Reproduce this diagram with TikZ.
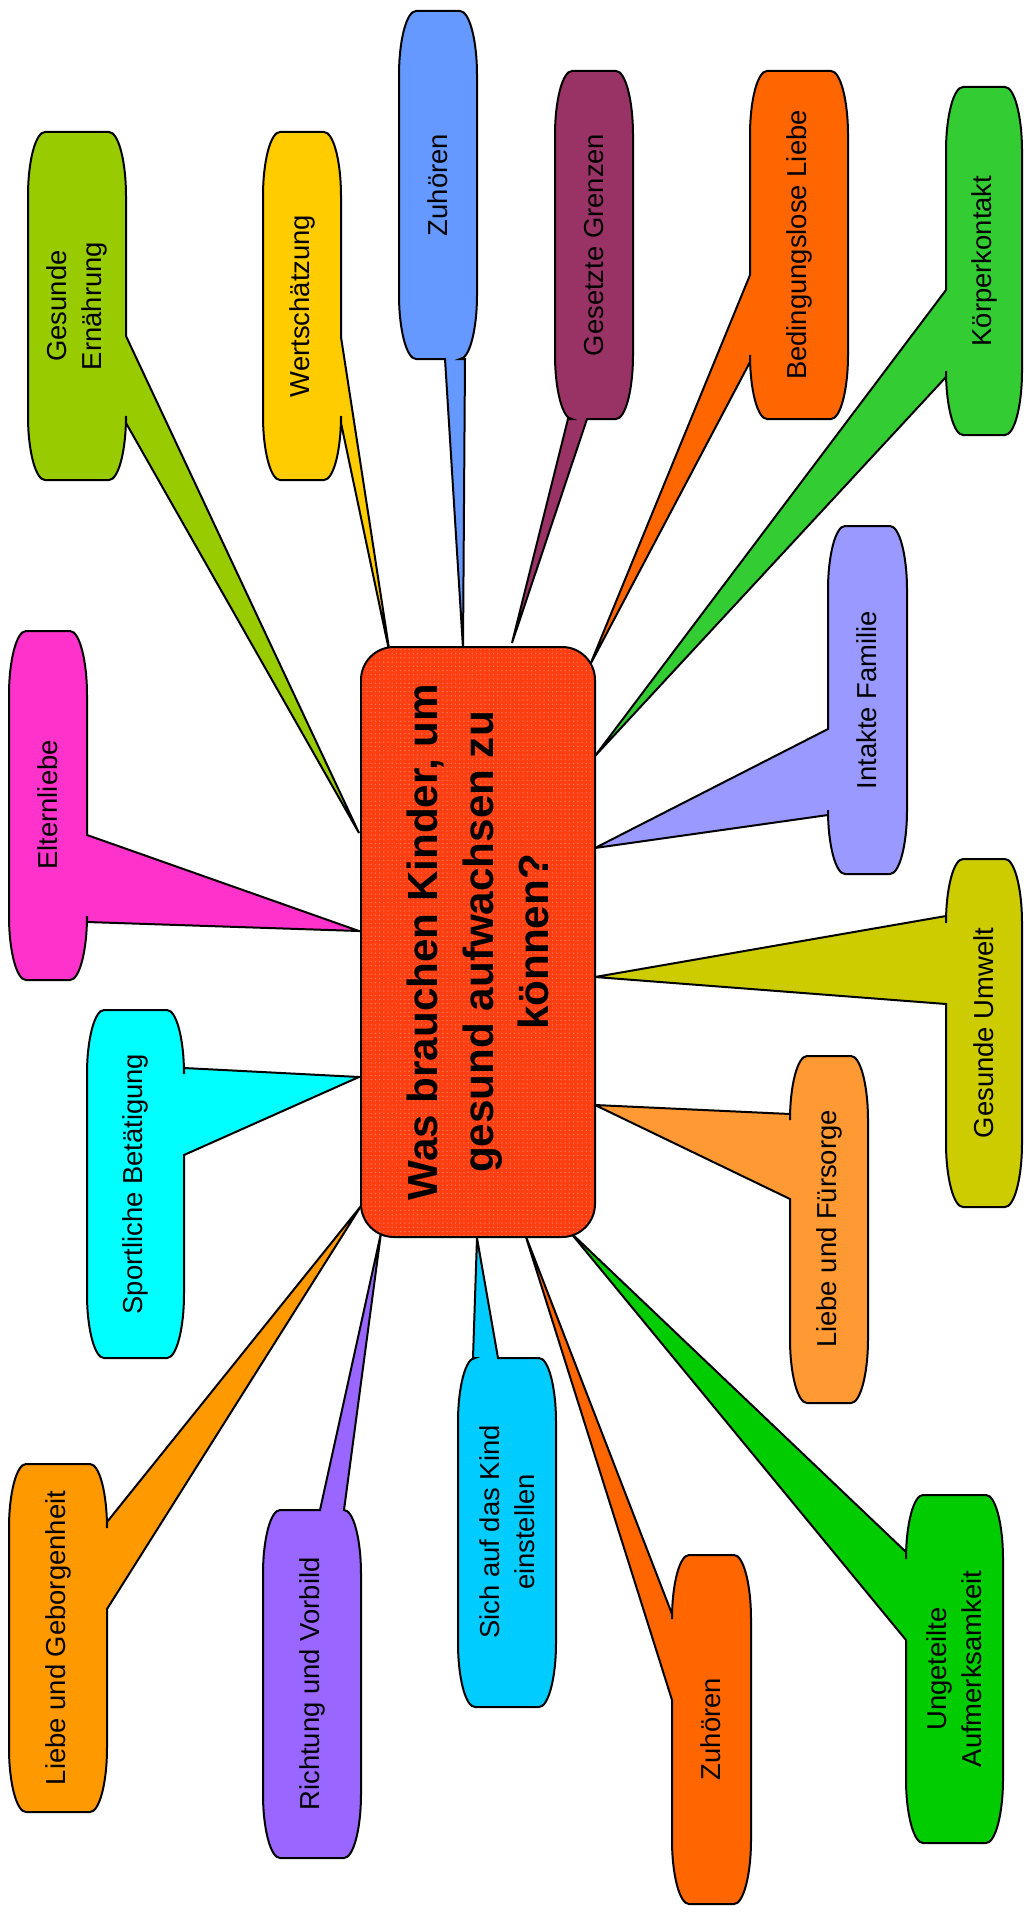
\documentclass[tikz,border=0pt]{standalone}
\usepackage{fontspec}
\setmainfont{Liberation Sans}
\usetikzlibrary{patterns}
\definecolor{fragerot}{RGB}{255,62,18}
\definecolor{fragepunkt}{RGB}{255,130,95}
\definecolor{blasegruengelb}{RGB}{153,204,0}
\definecolor{blasegelb}{RGB}{255,204,0}
\definecolor{blaseblau}{RGB}{102,153,255}
\definecolor{blaseweinrot}{RGB}{153,51,102}
\definecolor{blaseorange}{RGB}{255,102,0}
\definecolor{blasegruen}{RGB}{51,204,51}
\definecolor{blaseflieder}{RGB}{153,153,255}
\definecolor{blaseoliv}{RGB}{204,204,0}
\definecolor{blasehellorange}{RGB}{255,153,51}
\definecolor{blasesattgruen}{RGB}{0,204,0}
\definecolor{blasehimmel}{RGB}{0,204,255}
\definecolor{blaseviolett}{RGB}{153,102,255}
\definecolor{blasegoldorange}{RGB}{255,153,0}
\definecolor{blasetuerkis}{RGB}{0,255,255}
\definecolor{blasepink}{RGB}{255,51,204}
\tikzset{
  blase/.style={
    draw=black,
    line width=0.5mm,
    line join=miter
  },
  etikett/.style={
    rotate=90,
    align=center,
    inner sep=0pt,
    font=\fontsize{19.5}{25}\selectfont
  },
  frage/.style={
    rotate=90,
    draw=black,
    line width=0.5mm,
    rounded corners=8.25mm,
    minimum width=147.5mm,
    minimum height=58.5mm,
    align=center,
    preaction={fill=fragerot},
    pattern=dots,
    pattern color=fragepunkt,
    font=\bfseries\fontsize{30}{39.7}\selectfont
  }
}
\newcommand{\rundx}{17}
\newcommand{\rundy}{64}
% #1 colour, #2-#5 box, #6 side T/R/B/L, #7 #8 tail base, #9 tip
\newcommand{\blase}[9]{%
  \def\kanteT{}\def\kanteR{}\def\kanteB{}\def\kanteL{}%
  \if#6T\def\kanteT{-- (#7,#3) -- (#9) -- (#8,#3)}\fi
  \if#6R\def\kanteR{-- (#4,#7) -- (#9) -- (#4,#8)}\fi
  \if#6B\def\kanteB{-- (#8,#5) -- (#9) -- (#7,#5)}\fi
  \if#6L\def\kanteL{-- (#2,#8) -- (#9) -- (#2,#7)}\fi
  \filldraw[blase, fill=#1]
    (#2+\rundx,#3) \kanteT -- (#4-\rundx,#3)
    .. controls (#4-\rundx*0.45,#3) and (#4,#3+\rundy*0.45) .. (#4,#3+\rundy)
    \kanteR -- (#4,#5-\rundy)
    .. controls (#4,#5-\rundy*0.45) and (#4-\rundx*0.45,#5) .. (#4-\rundx,#5)
    \kanteB -- (#2+\rundx,#5)
    .. controls (#2+\rundx*0.45,#5) and (#2,#5-\rundy*0.45) .. (#2,#5-\rundy)
    \kanteL -- (#2,#3+\rundy)
    .. controls (#2,#3+\rundy*0.45) and (#2+\rundx*0.45,#3) .. (#2+\rundx,#3)
    -- cycle;
}

\begin{document}
\begin{tikzpicture}[x=0.25mm, y=-0.25mm]
  \useasboundingbox (0,0) rectangle (1023,1919);
  % tips on the question box
  \coordinate (t-ernaehrung) at (359,833);
  \coordinate (t-wert) at (390,655);
  \coordinate (t-zuhoeren1) at (463,648);
  \coordinate (t-grenzen) at (512,643);
  \coordinate (t-liebe) at (590,665);
  \coordinate (t-koerper) at (595,756);
  \coordinate (t-familie) at (595,848);
  \coordinate (t-umwelt) at (595,977);
  \coordinate (t-fuersorge) at (595,1105);
  \coordinate (t-aufmerksam) at (570,1232);
  \coordinate (t-zuhoeren2) at (525,1234);
  \coordinate (t-kind) at (477,1238);
  \coordinate (t-vorbild) at (381,1233);
  \coordinate (t-geborgen) at (361,1206);
  \coordinate (t-sport) at (359,1077);
  \coordinate (t-eltern) at (359,931);

  \blase{blasegruengelb}{28}{132}{126}{480}{R}{336}{423}{t-ernaehrung}
  \blase{blasegelb}{263}{132}{341}{480}{R}{337}{423}{t-wert}
  \blase{blaseblau}{399}{11}{477}{359}{B}{445}{465}{t-zuhoeren1}
  \blase{blaseweinrot}{555}{71}{633}{419}{B}{568}{587}{t-grenzen}
  \blase{blaseorange}{750}{71}{848}{419}{L}{275}{362}{t-liebe}
  \blase{blasegruen}{946}{87}{1022}{435}{L}{290}{377}{t-koerper}
  \blase{blaseflieder}{828}{526}{907}{874}{L}{729}{815}{t-familie}
  \blase{blaseoliv}{946}{859}{1022}{1207}{L}{916}{1004}{t-umwelt}
  \blase{blasehellorange}{790}{1056}{868}{1403}{L}{1114}{1199}{t-fuersorge}
  \blase{blasesattgruen}{906}{1495}{1003}{1843}{L}{1552}{1640}{t-aufmerksam}
  \blase{blaseorange}{672}{1555}{751}{1904}{L}{1614}{1700}{t-zuhoeren2}
  \blase{blasehimmel}{458}{1358}{556}{1707}{T}{473}{498}{t-kind}
  \blase{blaseviolett}{263}{1510}{361}{1858}{T}{320}{344}{t-vorbild}
  \blase{blasegoldorange}{9}{1464}{107}{1812}{R}{1522}{1609}{t-geborgen}
  \blase{blasetuerkis}{87}{1010}{184}{1358}{R}{1068}{1155}{t-sport}
  \blase{blasepink}{9}{631}{87}{980}{R}{835}{922}{t-eltern}

  \node[etikett] (ernaehrung) at (77,306) {Gesunde\\Ernährung};
  \node[etikett] (wert) at (302,306) {Wertschätzung};
  \node[etikett] (zuhoeren1) at (438,185) {Zuhören};
  \node[etikett] (grenzen) at (594,245) {Gesetzte Grenzen};
  \node[etikett] (liebe) at (799,245) {Bedingungslose Liebe};
  \node[etikett] (koerper) at (984,261) {Körperkontakt};
  \node[etikett] (familie) at (867,700) {Intakte Familie};
  \node[etikett] (umwelt) at (984,1033) {Gesunde Umwelt};
  \node[etikett] (fuersorge) at (829,1229) {Liebe und Fürsorge};
  \node[etikett] (aufmerksam) at (954,1669) {Ungeteilte\\Aufmerksamkeit};
  \node[etikett] (zuhoeren2) at (711,1729) {Zuhören};
  \node[etikett] (kind) at (507,1532) {Sich auf das Kind\\einstellen};
  \node[etikett] (vorbild) at (312,1684) {Richtung und Vorbild};
  \node[etikett] (geborgen) at (58,1638) {Liebe und Geborgenheit};
  \node[etikett] (sport) at (135,1184) {Sportliche Betätigung};
  \node[etikett] (eltern) at (48,805) {Elternliebe};

  \node[frage] (frage) at (478,942)
    {Was brauchen Kinder, um\\gesund aufwachsen zu\\können?};
\end{tikzpicture}
\end{document}
